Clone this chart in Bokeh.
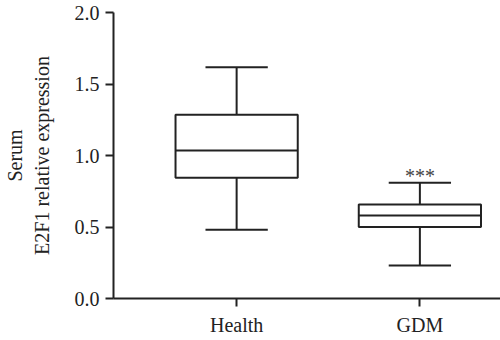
from bokeh.plotting import figure
from bokeh.models import Range1d, FixedTicker, ColumnDataSource
from bokeh.core.properties import value
from bokeh.embed import file_html
from bokeh.resources import INLINE

categories = ["Health", "GDM"]
lower_whisker = [0.48, 0.23]
q1 = [0.845, 0.50]
median = [1.035, 0.58]
q3 = [1.285, 0.657]
upper_whisker = [1.617, 0.81]
significance = ["", "***"]
y_ticks = [0.0, 0.5, 1.0, 1.5, 2.0]
y_title = "Serum\nE2F1 relative expression"

FONT = "Liberation Serif"
xs = [i + 1 for i in range(len(categories))]
box_w = 0.667
cap_w = 0.34

src = ColumnDataSource(dict(
    x=xs, lw=lower_whisker, q1=q1, med=median, q3=q3, uw=upper_whisker,
    left=[x - box_w / 2 for x in xs], right=[x + box_w / 2 for x in xs],
    cl=[x - cap_w / 2 for x in xs], cr=[x + cap_w / 2 for x in xs],
    sig=significance, sy=[u + 0.045 for u in upper_whisker],
))

p = figure(width=500, height=340, output_backend="svg", toolbar_location=None,
           x_range=Range1d(0.328, 2.44), y_range=Range1d(0, 2.0),
           min_border_left=113, min_border_right=0, min_border_top=12, min_border_bottom=42)
p.outline_line_color = None
p.grid.visible = False
p.background_fill_color = "white"

# whiskers
p.segment(x0="x", y0="q3", x1="x", y1="uw", source=src, line_color="#222222", line_width=2)
p.segment(x0="x", y0="lw", x1="x", y1="q1", source=src, line_color="#222222", line_width=2)
p.segment(x0="cl", y0="uw", x1="cr", y1="uw", source=src, line_color="#222222", line_width=2)
p.segment(x0="cl", y0="lw", x1="cr", y1="lw", source=src, line_color="#222222", line_width=2)
# boxes
p.quad(left="left", right="right", bottom="q1", top="q3", source=src,
       fill_color=None, line_color="#222222", line_width=2)
p.segment(x0="left", y0="med", x1="right", y1="med", source=src, line_color="#222222", line_width=2)
# significance
p.text(x="x", y="sy", text="sig", source=src, text_align="center", text_baseline="alphabetic",
       text_font=value(FONT), text_font_size="20px", text_color="#444444")

for ax in (p.xaxis[0], p.yaxis[0]):
    ax.axis_line_width = 2
    ax.axis_line_color = "#222222"
    ax.major_tick_line_width = 2
    ax.major_tick_line_color = "#222222"
    ax.major_tick_out = 8
    ax.major_tick_in = 0
    ax.minor_tick_line_color = None
    ax.major_label_text_font = FONT
    ax.major_label_text_font_size = "20px"
    ax.major_label_text_color = "#222222"

p.xaxis.ticker = FixedTicker(ticks=xs)
p.xaxis.major_label_overrides = {x: c for x, c in zip(xs, categories)}
p.xaxis.major_label_standoff = 7

p.yaxis.ticker = FixedTicker(ticks=y_ticks)
p.yaxis.major_label_overrides = {t: f"{t:.1f}" for t in y_ticks}
p.yaxis.major_label_standoff = 6
p.yaxis.axis_label = y_title
p.yaxis.axis_label_text_font = FONT
p.yaxis.axis_label_text_font_size = "20px"
p.yaxis.axis_label_text_font_style = "normal"
p.yaxis.axis_label_text_color = "#222222"
p.yaxis.axis_label_standoff = 19

open("out.html", "w").write(file_html(p, INLINE))
